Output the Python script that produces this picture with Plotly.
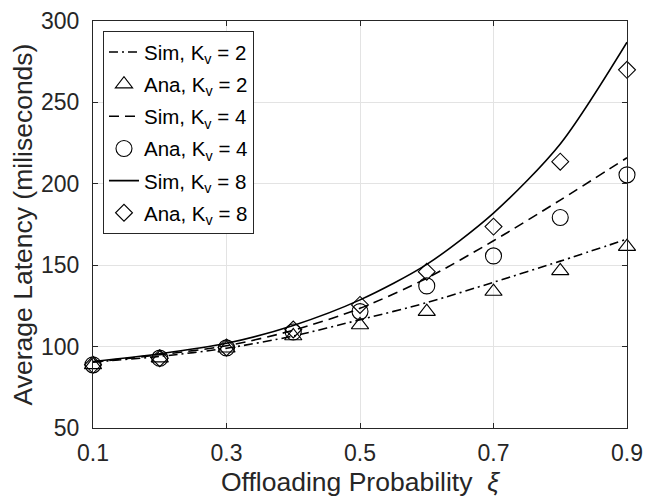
import plotly.graph_objects as go

xi = [0.1, 0.2, 0.3, 0.4, 0.5, 0.6, 0.7, 0.8, 0.9]
sim_k2 = [90.5, 94.0, 99.0, 106.5, 116.5, 127.0, 139.5, 152.5, 166.0]
sim_k4 = [90.5, 95.0, 100.5, 110.0, 123.5, 142.0, 165.0, 190.0, 216.0]
sim_k8 = [90.8, 95.6, 102.0, 113.0, 128.7, 150.5, 182.0, 224.5, 287.0]
ana_k2 = [88.8, 92.9, 99.0, 106.5, 113.3, 121.5, 133.8, 146.5, 161.4]
ana_k4 = [88.8, 92.9, 99.2, 109.0, 121.5, 137.3, 155.7, 179.3, 205.5]
ana_k8 = [88.8, 92.9, 99.5, 110.5, 125.6, 146.0, 173.7, 213.6, 270.0]

x_ticks = [0.1, 0.3, 0.5, 0.7, 0.9]
y_ticks = [50, 100, 150, 200, 250, 300]

ink = "#262626"
fig = go.Figure()

def sim(y, dash, name, grp):
    fig.add_trace(go.Scatter(x=xi, y=y, mode="lines", name=name, legendgroup=grp,
                             line=dict(color="black", width=1.6, dash=dash, shape="spline", smoothing=0.8),
                             cliponaxis=False))

def ana(y, symbol, size, name, grp):
    fig.add_trace(go.Scatter(x=xi, y=y, mode="markers", name=name, legendgroup=grp,
                             marker=dict(symbol=symbol, size=size, color="black",
                                         line=dict(color="black", width=1.1)),
                             cliponaxis=False))

sim(sim_k2, "9px,4px,2px,4px", "Sim, K<sub>v</sub> = 2", "a")
ana(ana_k2, "triangle-up-open", 15, "Ana, K<sub>v</sub> = 2", "b")
sim(sim_k4, "10px,6px", "Sim, K<sub>v</sub> = 4", "c")
ana(ana_k4, "circle-open", 16, "Ana, K<sub>v</sub> = 4", "d")
sim(sim_k8, "solid", "Sim, K<sub>v</sub> = 8", "e")
ana(ana_k8, "diamond-open", 13, "Ana, K<sub>v</sub> = 8", "f")

axis_common = dict(showline=True, linecolor=ink, linewidth=1, mirror="ticks",
                   ticks="inside", ticklen=5, tickcolor=ink, tickwidth=1,
                   showgrid=True, gridcolor="#e3e3e3", gridwidth=1, zeroline=False,
                   automargin=False,
                   tickfont=dict(family="Liberation Sans, Arial", size=23, color=ink))

fig.update_xaxes(range=[0.1, 0.9], tickvals=x_ticks, ticktext=[str(v) for v in x_ticks],
                 title=dict(text="Offloading Probability  <i>ξ</i>", standoff=7,
                            font=dict(family="Liberation Sans, Arial", size=26.5, color=ink)),
                 ticklabelstandoff=4, **axis_common)
fig.update_yaxes(range=[50, 300], tickvals=y_ticks,
                 title=dict(text="Average Latency (miliseconds)", standoff=8,
                            font=dict(family="Liberation Sans, Arial", size=26.5, color=ink)),
                 ticklabelstandoff=8, **axis_common)

# the page body has an 8px margin, so the figure is sized to end at the window edge
fig.update_layout(
    width=644, height=490,
    margin=dict(l=85, r=25, t=13, b=70, autoexpand=False),
    plot_bgcolor="white", paper_bgcolor="white",
    font=dict(family="Liberation Sans, Arial", color=ink),
    showlegend=True,
    legend=dict(x=0.0187, y=0.975, xanchor="left", yanchor="top",
                bgcolor="white", bordercolor=ink, borderwidth=1,
                font=dict(family="Liberation Sans, Arial", size=20.5, color="black"),
                traceorder="grouped", tracegroupgap=2.5, itemwidth=30),
)

fig.write_html("out.html")
